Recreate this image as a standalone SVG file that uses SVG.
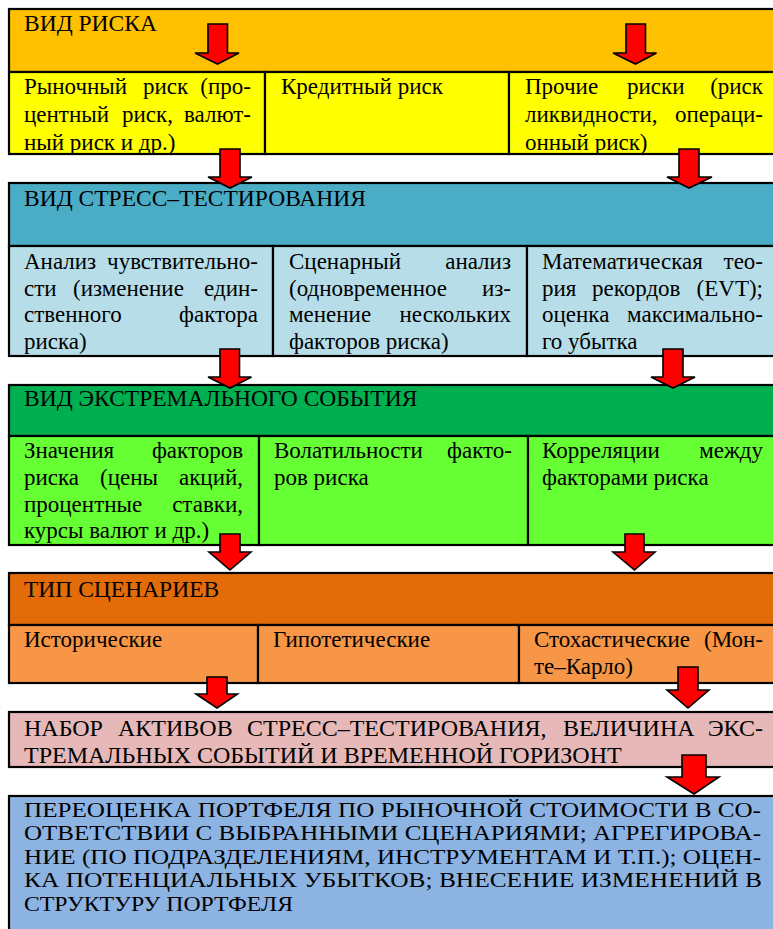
<svg xmlns="http://www.w3.org/2000/svg" width="773" height="929" viewBox="0 0 773 929">
<style>
  .bx { stroke:#000; stroke-width:2.2; }
  text { font-family:'Liberation Serif', 'DejaVu Serif', serif; font-size:23px; fill:#000; }
  .h { font-size:23.5px; }
  .b5 { font-size:24px; }
  .b6 { font-size:20.5px; }
  .e { text-anchor:end; }
  .arr { fill:#FF0000; stroke:#000; stroke-width:1.6; stroke-linejoin:miter; }
</style>
<rect width="773" height="929" fill="#FFFFFF"/>

<g id="block1">
  <g id="b1-header">
    <rect class="bx" x="9" y="9" width="775" height="63" fill="#FFC000"/>
    <text class="h" x="24" y="31">ВИД РИСКА</text>
  </g>
  <g id="b1-market">
    <rect class="bx" x="9" y="72" width="256" height="82" fill="#FFFF00"/>
    <text x="24" y="94">Рыночный</text><text x="143" y="94">риск</text><text class="e" x="251" y="94">(про-</text>
    <text x="24" y="122">центный</text><text x="122" y="122">риск,</text><text class="e" x="251" y="122">валют-</text>
    <text x="24" y="150">ный риск и др.)</text>
  </g>
  <g id="b1-credit">
    <rect class="bx" x="265" y="72" width="244" height="82" fill="#FFFF00"/>
    <text x="281" y="94">Кредитный риск</text>
  </g>
  <g id="b1-other">
    <rect class="bx" x="509" y="72" width="275" height="82" fill="#FFFF00"/>
    <text x="525" y="94">Прочие</text><text x="627" y="94">риски</text><text class="e" x="763" y="94">(риск</text>
    <text x="525" y="122">ликвидности,</text><text class="e" x="763" y="122">операци-</text>
    <text x="525" y="150">онный риск)</text>
  </g>
</g>

<g id="block2">
  <g id="b2-header">
    <rect class="bx" x="9" y="183" width="775" height="63" fill="#4BACC6"/>
    <text class="h" x="24" y="206">ВИД СТРЕСС–ТЕСТИРОВАНИЯ</text>
  </g>
  <g id="b2-sensitivity">
    <rect class="bx" x="9" y="246" width="264" height="110" fill="#B7DEE8"/>
    <text x="24" y="269">Анализ</text><text class="e" x="258" y="269">чувствительно-</text>
    <text x="24" y="295.5">сти</text><text x="73" y="295.5">(изменение</text><text class="e" x="258" y="295.5">един-</text>
    <text x="24" y="322">ственного</text><text class="e" x="258" y="322">фактора</text>
    <text x="24" y="348.5">риска)</text>
  </g>
  <g id="b2-scenario">
    <rect class="bx" x="273" y="246" width="254" height="110" fill="#B7DEE8"/>
    <text x="289" y="269">Сценарный</text><text class="e" x="511" y="269">анализ</text>
    <text x="289" y="295.5">(одновременное</text><text class="e" x="511" y="295.5">из-</text>
    <text x="289" y="322">менение</text><text class="e" x="511" y="322">нескольких</text>
    <text x="289" y="348.5">факторов риска)</text>
  </g>
  <g id="b2-evt">
    <rect class="bx" x="527" y="246" width="257" height="110" fill="#B7DEE8"/>
    <text x="542" y="269">Математическая</text><text class="e" x="763" y="269">тео-</text>
    <text x="542" y="295.5">рия</text><text x="592" y="295.5">рекордов</text><text class="e" x="763" y="295.5">(EVT);</text>
    <text x="542" y="322">оценка</text><text class="e" x="763" y="322">максимально-</text>
    <text x="542" y="348.5">го убытка</text>
  </g>
</g>

<g id="block3">
  <g id="b3-header">
    <rect class="bx" x="9" y="385" width="775" height="51" fill="#00B050"/>
    <text class="h" x="24" y="406">ВИД ЭКСТРЕМАЛЬНОГО СОБЫТИЯ</text>
  </g>
  <g id="b3-values">
    <rect class="bx" x="9" y="436" width="250" height="109" fill="#66FF33"/>
    <text x="24" y="458">Значения</text><text class="e" x="243" y="458">факторов</text>
    <text x="24" y="485">риска</text><text x="100" y="485">(цены</text><text class="e" x="243" y="485">акций,</text>
    <text x="24" y="511.5">процентные</text><text class="e" x="243" y="511.5">ставки,</text>
    <text x="24" y="538">курсы валют и др.)</text>
  </g>
  <g id="b3-volatility">
    <rect class="bx" x="259" y="436" width="269" height="109" fill="#66FF33"/>
    <text x="274" y="458">Волатильности</text><text class="e" x="512" y="458">факто-</text>
    <text x="274" y="485">ров риска</text>
  </g>
  <g id="b3-correlation">
    <rect class="bx" x="528" y="436" width="256" height="109" fill="#66FF33"/>
    <text x="542" y="458">Корреляции</text><text class="e" x="763" y="458">между</text>
    <text x="542" y="485">факторами риска</text>
  </g>
</g>

<g id="block4">
  <g id="b4-header">
    <rect class="bx" x="9" y="573" width="775" height="52" fill="#E36C09"/>
    <text class="h" x="24" y="597">ТИП СЦЕНАРИЕВ</text>
  </g>
  <g id="b4-historical">
    <rect class="bx" x="9" y="625" width="249" height="58" fill="#F79646"/>
    <text x="24" y="647">Исторические</text>
  </g>
  <g id="b4-hypothetical">
    <rect class="bx" x="258" y="625" width="261" height="58" fill="#F79646"/>
    <text x="273" y="647">Гипотетические</text>
  </g>
  <g id="b4-stochastic">
    <rect class="bx" x="519" y="625" width="265" height="58" fill="#F79646"/>
    <text x="534" y="647">Стохастические</text><text class="e" x="763" y="647">(Мон-</text>
    <text x="534" y="674">те–Карло)</text>
  </g>
</g>

<g id="block5">
  <rect class="bx" x="9" y="712" width="775" height="55" fill="#E6B9B8"/>
  <text class="b5" x="24" y="736">НАБОР</text><text class="b5" x="118" y="736">АКТИВОВ</text><text class="b5" x="247" y="736">СТРЕСС–ТЕСТИРОВАНИЯ,</text><text class="b5" x="563" y="736">ВЕЛИЧИНА</text><text class="b5 e" x="763" y="736">ЭКС-</text>
  <text class="b5" x="24" y="763">ТРЕМАЛЬНЫХ СОБЫТИЙ И ВРЕМЕННОЙ ГОРИЗОНТ</text>
</g>

<g id="block6">
  <rect class="bx" x="9" y="796" width="775" height="145" fill="#8DB3E2"/>
  <text class="b6" x="24" y="817" textLength="737" lengthAdjust="spacingAndGlyphs">ПЕРЕОЦЕНКА ПОРТФЕЛЯ ПО РЫНОЧНОЙ СТОИМОСТИ В СО-</text>
  <text class="b6" x="24" y="840" textLength="737" lengthAdjust="spacingAndGlyphs">ОТВЕТСТВИИ С ВЫБРАННЫМИ СЦЕНАРИЯМИ; АГРЕГИРОВА-</text>
  <text class="b6" x="24" y="864" textLength="737" lengthAdjust="spacingAndGlyphs">НИЕ (ПО ПОДРАЗДЕЛЕНИЯМ, ИНСТРУМЕНТАМ И Т.П.); ОЦЕН-</text>
  <text class="b6" x="24" y="887" textLength="738" lengthAdjust="spacingAndGlyphs">КА ПОТЕНЦИАЛЬНЫХ УБЫТКОВ; ВНЕСЕНИЕ ИЗМЕНЕНИЙ В</text>
  <text class="b6" x="24" y="911" textLength="269" lengthAdjust="spacingAndGlyphs">СТРУКТУРУ ПОРТФЕЛЯ</text>
</g>

<g id="connectors">
  <polygon class="arr" points="208,24 227.5,24 227.5,53 239,53 217.5,64 195,53 208,53"/>
  <polygon class="arr" points="626,24 645.5,24 645.5,53 656.5,53 635.5,64 613,53 626,53"/>
  <polygon class="arr" points="220,149 240,149 240,177 252,177 230,188 208,177 220,177"/>
  <polygon class="arr" points="679,149 699,149 699,177 712,177 689,188 667,177 679,177"/>
  <polygon class="arr" points="220,349 239.5,349 239.5,377 251.5,377 230,388 208,377 220,377"/>
  <polygon class="arr" points="663,349 683,349 683,377 695,377 673,388 651,377 663,377"/>
  <polygon class="arr" points="220,534 240,534 240,552 251,552 230,570 209,552 220,552"/>
  <polygon class="arr" points="625,534 644,534 644,552 655,552 634.5,570 613,552 625,552"/>
  <polygon class="arr" points="207,677 227,677 227,694 237.5,694 217,708 196,694 207,694"/>
  <polygon class="arr" points="678,667 698,667 698,690 709,690 688,708 667,690 678,690"/>
  <polygon class="arr" points="682,755 706,755 706,777 719,777 694,794 667,777 682,777"/>
</g>
</svg>
